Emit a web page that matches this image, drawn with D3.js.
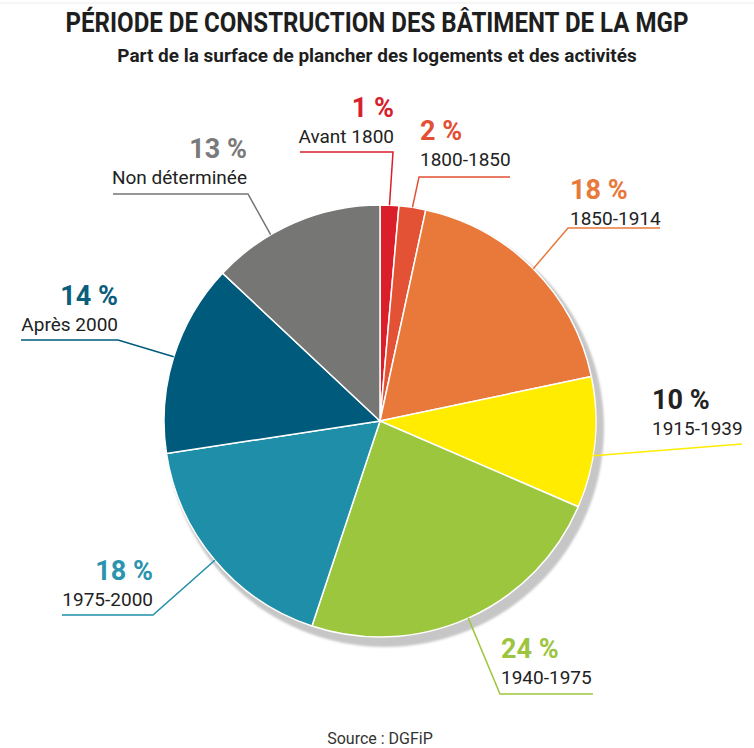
<!DOCTYPE html>
<html>
<head>
<meta charset="utf-8">
<script src="https://cdn.jsdelivr.net/npm/d3@7"></script>
<style>
  body { margin: 0; background: #fff; }
  svg { display: block; font-family: Roboto, "Noto Sans", sans-serif; }
</style>
</head>
<body>
<svg id="chart" width="754" height="748"></svg>
<script>
// values (labels show rounded %)
const periods = ["Avant 1800", "1800-1850", "1850-1914", "1915-1939", "1940-1975", "1975-2000", "Après 2000", "Non déterminée"];
const shares = [1.4, 2.0, 18.3, 9.8, 23.6, 17.5, 14.4, 13.0];
const shareLabels = ["1 %", "2 %", "18 %", "10 %", "24 %", "18 %", "14 %", "13 %"];
const sliceColors = ["#db1f2a", "#e35234", "#e9793b", "#ffec00", "#9dc63f", "#1f8ea8", "#005a7b", "#767675"];
const pctColors = ["#d7202c", "#e24f35", "#e8793a", "#222222", "#9dc43f", "#2a93ad", "#0b5d7c", "#7a7a7a"];

// label placement: text x, percent baseline, anchor, elbow, end of leader, where on slice (0..1)
const labelLayout = [
    { x: 394, y: 117, anchor: "end",   elbow: [393, 152], end: [300, 152], at: 0.5 },
    { x: 420, y: 140, anchor: "start", elbow: [419, 177], end: [510, 177], at: 0.5 },
    { x: 570, y: 199, anchor: "start", elbow: [568, 228], end: [660, 228], at: 0.5 },
    { x: 652, y: 409, anchor: "start", elbow: null,       end: [742, 444], at: 0.6 },
    { x: 501, y: 658, anchor: "start", elbow: [500, 694], end: [593, 694], at: 0.5 },
    { x: 153, y: 580, anchor: "end",   elbow: [153, 615], end: [62, 615],  at: 0.5 },
    { x: 118, y: 305, anchor: "end",   elbow: [118, 340], end: [21, 340],  at: 0.5 },
    { x: 247, y: 158, anchor: "end",   elbow: [248, 194], end: [113, 194], at: 0.35 }
];

const svg = d3.select("#chart");
const cx = 380, cy = 421, radius = 216;

svg.append("line")
    .attr("x1", 0).attr("x2", 754)
    .attr("y1", 3).attr("y2", 3)
    .attr("stroke", "#ececec")
    .attr("stroke-width", 1);

// condensed look: squeeze the bold text horizontally to the wanted width
function squeezedText(str, x, y, size, width) {
    const t = svg.append("text")
        .attr("text-anchor", "middle")
        .attr("font-size", size)
        .attr("font-weight", 700)
        .attr("fill", "#1e1e1e")
        .text(str);
    const w = t.node().getComputedTextLength();
    const sx = Math.min(1, width / w);
    t.attr("transform", `translate(${x},${y}) scale(${sx},1)`);
    return t;
}

squeezedText("PÉRIODE DE CONSTRUCTION DES BÂTIMENT DE LA MGP", 377, 32, 28, 623);
squeezedText("Part de la surface de plancher des logements et des activités", 377, 62, 19, 520);

const defs = svg.append("defs");
defs.append("filter").attr("id", "soft")
    .append("feGaussianBlur").attr("stdDeviation", 0.8);

// drop shadow behind the pie
svg.append("circle")
    .attr("cx", cx + 5).attr("cy", cy + 7)
    .attr("r", radius + 3)
    .attr("fill", "#c6c6c6")
    .attr("filter", "url(#soft)");

const pie = d3.pie().sort(null).value(d => d)(shares);
const arc = d3.arc().innerRadius(0).outerRadius(radius);

const g = svg.append("g").attr("transform", `translate(${cx},${cy})`);
g.selectAll("path")
    .data(pie)
    .enter()
    .append("path")
    .attr("d", arc)
    .attr("fill", (d, i) => sliceColors[i])
    .attr("stroke", "#fff")
    .attr("stroke-width", 1.5)
    .attr("stroke-linejoin", "round");

// leader lines
pie.forEach((d, i) => {
    const L = labelLayout[i];
    const a = d.startAngle + (d.endAngle - d.startAngle) * L.at;
    const p0 = [cx + radius * Math.sin(a), cy - radius * Math.cos(a)];
    const pts = [p0];
    if (L.elbow) pts.push(L.elbow);
    pts.push(L.end);
    svg.append("path")
        .attr("d", d3.line()(pts))
        .attr("fill", "none")
        .attr("stroke", sliceColors[i])
        .attr("stroke-width", 1.5);
});

// labels
labelLayout.forEach((L, i) => {
    svg.append("text")
        .attr("x", L.x).attr("y", L.y)
        .attr("text-anchor", L.anchor)
        .attr("font-size", 27)
        .attr("font-weight", 700)
        .attr("fill", pctColors[i])
        .text(shareLabels[i]);
    svg.append("text")
        .attr("x", L.x).attr("y", L.y + 26)
        .attr("text-anchor", L.anchor)
        .attr("font-size", 19)
        .attr("fill", "#222")
        .text(periods[i]);
});

svg.append("text")
    .attr("x", 380).attr("y", 744)
    .attr("text-anchor", "middle")
    .attr("font-size", 16)
    .attr("fill", "#333")
    .text("Source : DGFiP");
</script>
</body>
</html>
